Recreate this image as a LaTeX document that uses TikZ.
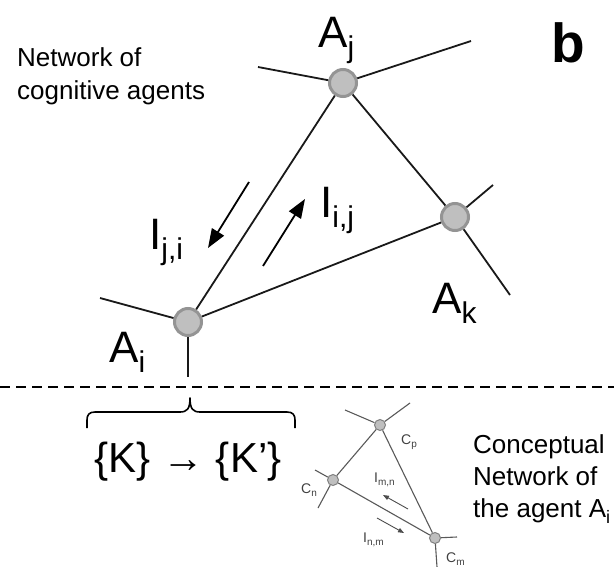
\documentclass[tikz,border=0pt]{standalone}
\usepackage{fontspec}
\setmainfont{Liberation Sans}
\usetikzlibrary{arrows.meta}
\newcommand{\mysub}[3]{\raisebox{-#2}{\fontsize{#1}{#1}\selectfont #3}}
\begin{document}
\begin{tikzpicture}[x=1pt,y=-1pt,
  agent/.style={circle,fill=black!25,draw=black!42,line width=3pt,minimum size=27pt,inner sep=0pt},
  concept/.style={circle,fill=black!25,draw=black!50,line width=1pt,minimum size=11pt,inner sep=0pt},
  link/.style={line width=1.8pt,black!90},
  clink/.style={line width=1.1pt,black!65},
  flow/.style={line width=1.8pt,-{Triangle[length=19pt,width=14pt]}},
  cflow/.style={line width=0.9pt,black!70,-{Triangle[length=6pt,width=4.5pt]}},
  big/.style={font=\fontsize{44}{48}\selectfont,inner sep=0pt,anchor=base west},
  lbl/.style={font=\fontsize{26}{33}\selectfont,align=left,inner sep=0pt},
  clbl/.style={font=\fontsize{14}{16}\selectfont,black!75,inner sep=0pt,anchor=base west}]
\useasboundingbox (0,0) rectangle (614,567);
% agents network
\node[agent] (ai) at (188,322) {};
\node[agent] (aj) at (343,83) {};
\node[agent] (ak) at (455,217) {};
\coordinate (ajl) at (258,67);
\coordinate (ajr) at (471,41);
\coordinate (aku) at (493,185);
\coordinate (akd) at (510,295);
\coordinate (ail) at (100,298);
\coordinate (aid) at (188,377);
\draw[link] (ai) -- (aj);
\draw[link] (ai) -- (ak);
\draw[link] (aj) -- (ak);
\draw[link] (aj) -- (ajl);
\draw[link] (aj) -- (ajr);
\draw[link] (ak) -- (aku);
\draw[link] (ak) -- (akd);
\draw[link] (ai) -- (ail);
\draw[link] (ai) -- (aid);
% labels
\node[big] (laj) at (318,48) {A\mysub{30}{10pt}{j}};
\node[big] (lak) at (432,313) {A\mysub{30}{10pt}{k}};
\node[big] (lai) at (109,362) {A\mysub{30}{10pt}{i}};
\node[big] (lji) at (149,250) {I\mysub{30}{10pt}{j,i}};
\node[big] (lij) at (320,218) {I\mysub{30}{10pt}{i,j}};
\coordinate (f1s) at (249,182);
\coordinate (f1e) at (208,248);
\coordinate (f2s) at (263,266);
\coordinate (f2e) at (305,199);
\draw[flow] (f1s) -- (f1e);
\draw[flow] (f2s) -- (f2e);
\node[lbl,anchor=base west] (title) at (17,100) {Network of\\cognitive agents};
\node[font=\fontsize{55}{55}\bfseries,anchor=south west,inner sep=0pt] (b) at (551,63) {b};
% separator
\coordinate (dl) at (0,387);
\coordinate (dr) at (614,387);
\draw[line width=1.6pt,dash pattern=on 10pt off 6pt] (dl) -- (dr);
% brace
\draw[line width=1.6pt,line join=round]
  (87,428) -- (87,420) .. controls (87,415) and (89,412) .. (95,412)
  -- (180,412) .. controls (187,412) and (190,409) .. (190,398)
  .. controls (190,409) and (193,412) .. (200,412)
  -- (287,412) .. controls (293,412) and (295,415) .. (295,420) -- (295,428);
\node[font=\fontsize{42}{46}\selectfont,inner sep=0pt,anchor=base] (kk) at (188,472) {\{K\} → \{K’\}};
% conceptual network
\node[concept] (cp) at (380,425) {};
\node[concept] (cn) at (333,480) {};
\node[concept] (cm) at (435,538) {};
\coordinate (cpl) at (345,410);
\coordinate (cpr) at (410,403);
\coordinate (cnl) at (315,470);
\coordinate (cnd) at (318,508);
\coordinate (cmr) at (457,537);
\coordinate (cmd) at (437,567);
\draw[clink] (cp) -- (cn);
\draw[clink] (cp) -- (cm);
\draw[clink] (cn) -- (cm);
\draw[clink] (cp) -- (cpl);
\draw[clink] (cp) -- (cpr);
\draw[clink] (cn) -- (cnl);
\draw[clink] (cn) -- (cnd);
\draw[clink] (cm) -- (cmr);
\draw[clink] (cm) -- (cmd);
\node[clbl] (lcp) at (401,444) {C\mysub{10}{3pt}{p}};
\node[clbl] (lcn) at (301,493) {C\mysub{10}{3pt}{n}};
\node[clbl] (lcm) at (446,562) {C\mysub{10}{3pt}{m}};
\node[clbl] (lmn) at (374,482) {I\mysub{10}{3pt}{m,n}};
\node[clbl] (lnm) at (363,542) {I\mysub{10}{3pt}{n,m}};
\coordinate (c1s) at (408,509);
\coordinate (c1e) at (383,495);
\coordinate (c2s) at (377,518);
\coordinate (c2e) at (404,533);
\draw[cflow] (c1s) -- (c1e);
\draw[cflow] (c2s) -- (c2e);
\node[font=\fontsize{26}{32}\selectfont,align=left,anchor=base west,inner sep=0pt] (concl) at (473,517) {Conceptual\\Network of\\the agent A\mysub{18}{6pt}{i}};
\end{tikzpicture}
\end{document}
